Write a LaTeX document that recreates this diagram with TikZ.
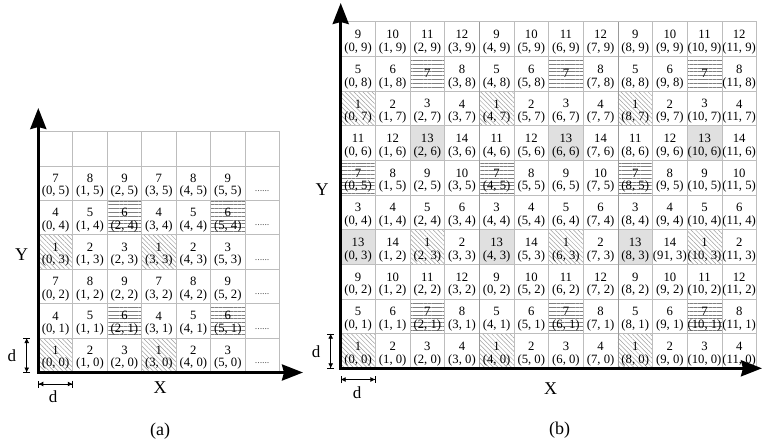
\documentclass[tikz,border=0pt]{standalone}
\usepackage{fontspec}
\setmainfont{Liberation Serif}
\usetikzlibrary{arrows.meta,patterns.meta}
\definecolor{gridc}{gray}{0.74}
\definecolor{gridd}{gray}{0.6}
\definecolor{hatchc}{gray}{0.62}
\definecolor{hhatchc}{gray}{0.5}
\definecolor{cellgray}{gray}{0.88}
\tikzset{
  gridline/.style={draw=gridc, line width=0.6pt},
  gridline2/.style={draw=gridd, line width=0.7pt},
  dhatch/.style={pattern={Lines[angle=-45,distance=3.2pt,line width=0.5pt]}, pattern color=hatchc},
  hhatch/.style={pattern={Lines[angle=0,distance=3.8pt,line width=0.55pt]}, pattern color=hhatchc},
  grayfill/.style={fill=cellgray},
  num/.style={font=\fontsize{12.7}{14}\selectfont, inner sep=0pt},
  crd/.style={font=\fontsize{12.7}{14}\selectfont, inner sep=0pt},
  dotsty/.style={font=\fontsize{8}{9}\selectfont, inner sep=0pt},
  axis/.style={line width=3pt, line join=miter,
    {Stealth[length=21pt,width=16pt,inset=2pt]}-{Stealth[length=21pt,width=16pt,inset=2pt]}},
  dimarrow/.style={line width=0.8pt, {Latex[length=5pt,width=5pt]}-{Latex[length=5pt,width=5pt]}},
  dimbar/.style={line width=0.8pt, {Bar[width=7pt]}-{Bar[width=7pt]}},
  lbl/.style={font=\fontsize{18}{20}\selectfont, inner sep=0pt},
  dlbl/.style={font=\fontsize{17}{19}\selectfont, inner sep=0pt},
}
\newcommand\mydots{.\kern0.4pt.\kern0.4pt.\kern0.4pt.\kern0.4pt.\kern0.4pt.}
\begin{document}
\begin{tikzpicture}[x=1pt,y=-1pt]
\useasboundingbox (0,0) rectangle (762,444);
% ---------------- panel (a) ----------------
\def\ax{38.3}\def\ay{372.5}\def\as{34.45}
\foreach \r in {0,...,5}{
  \foreach \c in {0,...,5}{
    \pgfmathtruncatemacro\n{3*mod(\r,3)+mod(\c,3)+1}
    \pgfmathsetmacro\xl{\ax+\c*\as}
    \pgfmathsetmacro\yt{\ay-(\r+1)*\as}
    \pgfmathsetmacro\xm{\xl+\as/2}
    \pgfmathsetmacro\ym{\yt+\as/2}
    \ifnum\n=1 \path[dhatch] (\xl,\yt) rectangle ++(\as,\as);\fi
    \ifnum\n=6 \path[hhatch] (\xl,\yt+1.5) rectangle ++(\as,\as-3);\fi
    \node[num] (a-\c-\r) at (\xm,\ym-5) {\n};
    \node[crd] (a-\c-\r-xy) at (\xm,\ym+8.6) {(\c, \r)};
  }
  \pgfmathsetmacro\xm{\ax+6.5*\as}
  \pgfmathsetmacro\ym{\ay-(\r+0.5)*\as}
  \node[dotsty] (a-dots-\r) at (\xm,\ym+8) {\mydots};
}
\foreach \i in {1,...,7}{
  \draw[gridline] (\ax+\i*\as,\ay) -- (\ax+\i*\as,\ay-7*\as);
  \draw[gridline] (\ax,\ay-\i*\as) -- (\ax+7*\as,\ay-\i*\as);
}
\coordinate (a-o) at (\ax,\ay);
\coordinate (a-ytip) at (\ax,108);
\coordinate (a-xtip) at (303,\ay);
\draw[axis] (a-ytip) -- (a-o) -- (a-xtip);
\node[lbl] (a-Y) at (21.7,255) {Y};
\node[lbl] (a-X) at (160,388) {X};
\coordinate (a-dv1) at (26.7,\ay-\as);
\coordinate (a-dv2) at (26.7,\ay);
\draw[dimbar] (a-dv1) -- (a-dv2);
\draw[dimarrow] (a-dv1) -- (a-dv2);
\coordinate (a-dh1) at (\ax,384);
\coordinate (a-dh2) at (\ax+\as,384);
\draw[dimbar] (a-dh1) -- (a-dh2);
\draw[dimarrow] (a-dh1) -- (a-dh2);
\node[dlbl] (a-dvl) at (12,356) {d};
\node[dlbl] (a-dhl) at (53,397) {d};
\node[lbl] (a-cap) at (160,431) {(a)};
% ---------------- panel (b) ----------------
\def\bx{340.7}\def\by{368.3}\def\bs{34.65}
\foreach \r in {0,...,9}{
  \foreach \c in {0,...,11}{
    \pgfmathtruncatemacro\n{mod(4*\r+mod(\c,4),14)+1}
    \pgfmathsetmacro\xl{\bx+\c*\bs}
    \pgfmathsetmacro\yt{\by-(\r+1)*\bs}
    \pgfmathsetmacro\xm{\xl+\bs/2}
    \pgfmathsetmacro\ym{\yt+\bs/2}
    \ifnum\n=1 \path[dhatch] (\xl,\yt) rectangle ++(\bs,\bs);\fi
    \ifnum\n=7 \path[hhatch] (\xl,\yt+1.5) rectangle ++(\bs,\bs-3);\fi
    \ifnum\n=13 \path[grayfill] (\xl,\yt) rectangle ++(\bs,\bs);\fi
    \edef\lab{(\c, \r)}
    \ifnum\r=3 \ifnum\c=1 \def\lab{(1, 2)}\fi\ifnum\c=9 \def\lab{(91, 3)}\fi\fi
    \ifnum\r=2 \ifnum\c=4 \def\lab{(0, 2)}\fi\fi
    \pgfmathtruncatemacro\only{and(\r==8,\n==7)}
    \ifnum\only=1
      \node[num] (b-\c-\r) at (\xm,\ym) {\n};
    \else
      \node[num] (b-\c-\r) at (\xm,\ym-4.6) {\n};
      \node[crd] (b-\c-\r-xy) at (\xm,\ym+9.2) {\lab};
    \fi
  }
}
\foreach \i in {1,...,12}{
  \draw[gridline] (\bx+\i*\bs,\by) -- (\bx+\i*\bs,\by-10*\bs);
}
\foreach \i in {1,...,10}{
  \draw[gridline] (\bx,\by-\i*\bs) -- (\bx+12*\bs,\by-\i*\bs);
}
\foreach \i in {4,8}{
  \draw[gridline2] (\bx+\i*\bs,\by) -- (\bx+\i*\bs,\by-10*\bs);
}
\coordinate (b-o) at (\bx,\by);
\coordinate (b-ytip) at (\bx,3);
\coordinate (b-xtip) at (762,\by);
\draw[axis] (b-ytip) -- (b-o) -- (b-xtip);
\node[lbl] (b-Y) at (322,190) {Y};
\node[lbl] (b-X) at (550.5,389) {X};
\coordinate (b-dv1) at (330.7,\by-\bs);
\coordinate (b-dv2) at (330.7,\by);
\draw[dimbar] (b-dv1) -- (b-dv2);
\draw[dimarrow] (b-dv1) -- (b-dv2);
\coordinate (b-dh1) at (\bx,379.5);
\coordinate (b-dh2) at (\bx+\bs,379.5);
\draw[dimbar] (b-dh1) -- (b-dh2);
\draw[dimarrow] (b-dh1) -- (b-dh2);
\node[dlbl] (b-dvl) at (316,352) {d};
\node[dlbl] (b-dhl) at (357,393) {d};
\node[lbl] (b-cap) at (559.5,430) {(b)};
\end{tikzpicture}
\end{document}
